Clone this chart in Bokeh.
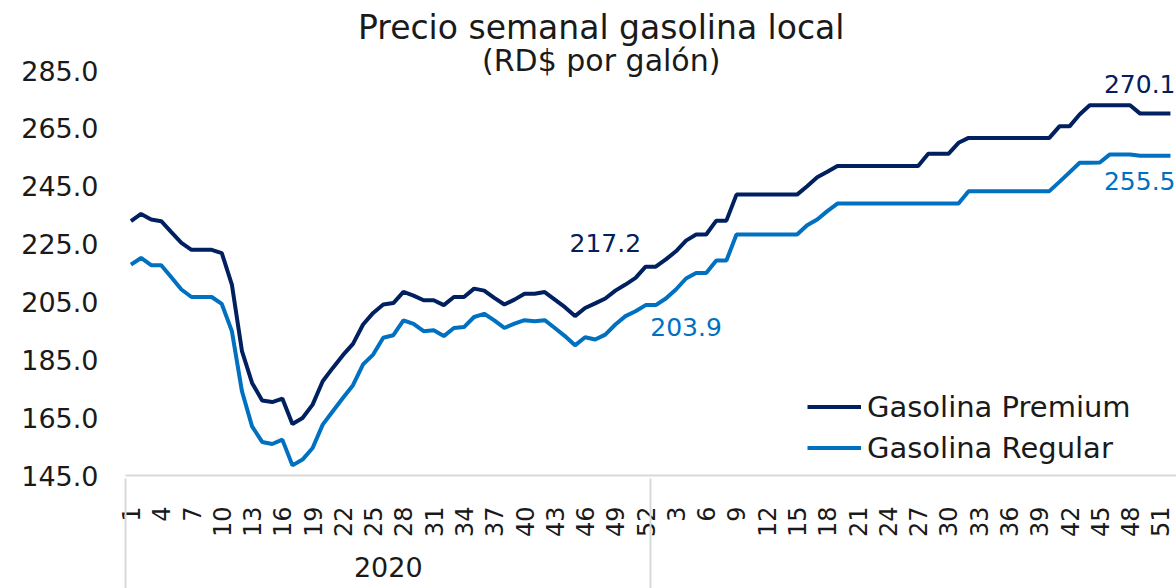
import math
from bokeh.plotting import figure
from bokeh.models import (Range1d, FixedTicker, LinearAxis, Legend, LegendItem,
                          ColumnDataSource)
from bokeh.core.properties import value
from bokeh.embed import file_html
from bokeh.resources import INLINE

# ---------------- data ----------------
years = ["2020", "2021"]
weeks_2020 = list(range(1, 53))
weeks_2021 = list(range(1, 53))

premium_2020 = [232.9, 235.4, 233.5, 232.9, 229.1, 225.4, 223.0, 223.0, 223.0, 221.9,
                211.0, 188.0, 177.0, 170.9, 170.4, 171.6, 162.8, 164.9, 169.5, 177.6,
                182.2, 186.6, 190.5, 197.2, 201.2, 204.1, 204.6, 208.5, 207.2, 205.6,
                205.6, 203.9, 206.7, 206.7, 209.6, 208.9, 206.4, 204.1, 205.8, 207.8,
                207.8, 208.4, 205.8, 203.2, 200.1, 202.9, 204.5, 206.2, 208.9, 211.0,
                213.3, 217.2]
premium_2021 = [217.2, 219.7, 222.5, 226.2, 228.3, 228.3, 233.1, 233.1, 242.1, 242.1,
                242.1, 242.1, 242.1, 242.1, 242.1, 245.0, 248.1, 250.0, 252.0, 252.0,
                252.0, 252.0, 252.0, 252.0, 252.0, 252.0, 252.0, 256.2, 256.2, 256.2,
                260.0, 261.7, 261.7, 261.7, 261.7, 261.7, 261.7, 261.7, 261.7, 261.7,
                265.7, 265.7, 269.8, 273.0, 273.0, 273.0, 273.0, 273.0, 270.1, 270.1,
                270.1, 270.1]
regular_2020 = [217.9, 220.2, 217.7, 217.7, 213.5, 209.3, 206.7, 206.7, 206.7, 204.3,
                194.9, 174.1, 162.0, 156.6, 155.9, 157.4, 148.5, 150.5, 154.5, 162.6,
                167.2, 171.8, 176.2, 183.4, 186.8, 192.6, 193.5, 198.6, 197.4, 194.9,
                195.2, 193.2, 196.0, 196.3, 199.8, 200.9, 198.6, 196.0, 197.5, 198.7,
                198.3, 198.7, 196.0, 193.2, 190.0, 192.8, 192.0, 193.7, 197.2, 200.1,
                201.8, 203.9]
regular_2021 = [203.9, 206.2, 209.3, 213.1, 215.0, 215.0, 219.3, 219.3, 228.3, 228.3,
                228.3, 228.3, 228.3, 228.3, 228.3, 231.5, 233.5, 236.4, 239.0, 239.0,
                239.0, 239.0, 239.0, 239.0, 239.0, 239.0, 239.0, 239.0, 239.0, 239.0,
                239.0, 243.3, 243.3, 243.3, 243.3, 243.3, 243.3, 243.3, 243.3, 243.3,
                246.5, 249.8, 253.1, 253.1, 253.2, 256.0, 256.0, 256.0, 255.5, 255.5,
                255.5, 255.5]

tick_weeks_2020 = [1, 4, 7, 10, 13, 16, 19, 22, 25, 28, 31, 34, 37, 40, 43, 46, 49, 52]
tick_weeks_2021 = [3, 6, 9, 12, 15, 18, 21, 24, 27, 30, 33, 36, 39, 42, 45, 48, 51]
y_ticks = [145, 165, 185, 205, 225, 245, 265, 285]
y_tick_labels = ["145.0", "165.0", "185.0", "205.0", "225.0", "245.0", "265.0", "285.0"]

series_names = ["Gasolina Premium", "Gasolina Regular"]
title_text = "Precio semanal gasolina local"
subtitle_text = "(RD$ por galón)"

# ---------------- build ----------------
FONT = "DejaVu Sans"
DARK = "#002060"
LIGHT = "#0070C0"
TXT = "#1a1a1a"
GRID = "#d9d9d9"

n20 = len(weeks_2020)
n_all = n20 + len(weeks_2021)
xs = list(range(n_all))
premium = premium_2020 + premium_2021
regular = regular_2020 + regular_2021

src = ColumnDataSource(dict(x=xs, premium=premium, regular=regular))

p = figure(width=1176, height=588, output_backend="svg", toolbar_location=None,
           x_range=Range1d(-0.54, 103.6), y_range=Range1d(145, 309.2),
           x_axis_type=None, y_axis_type=None,
           min_border_left=125, min_border_right=0, min_border_top=0,
           min_border_bottom=113)
p.outline_line_color = None
p.background_fill_color = "white"

# y axis
yaxis = LinearAxis(ticker=FixedTicker(ticks=y_ticks),
                   major_label_overrides=dict(zip(y_ticks, y_tick_labels)),
                   axis_line_color=None, major_tick_line_color=None,
                   minor_tick_line_color=None, major_tick_out=0, major_tick_in=0,
                   major_label_standoff=27,
                   major_label_text_font=FONT, major_label_text_font_size="27px",
                   major_label_text_color=TXT)
p.add_layout(yaxis, "left")

# x axis (weeks)
tick_pos = [w - 1 for w in tick_weeks_2020] + [n20 + w - 1 for w in tick_weeks_2021]
tick_lab = [str(w) for w in tick_weeks_2020] + [str(w) for w in tick_weeks_2021]
xaxis = LinearAxis(ticker=FixedTicker(ticks=tick_pos),
                   major_label_overrides=dict(zip(tick_pos, tick_lab)),
                   major_label_orientation=math.pi / 2,
                   axis_line_color=GRID, axis_line_width=2,
                   major_tick_line_color=None, major_tick_out=0, major_tick_in=0,
                   minor_tick_line_color=None,
                   major_label_standoff=31,
                   major_label_text_font=FONT, major_label_text_font_size="24px",
                   major_label_text_color=TXT)
p.add_layout(xaxis, "below")

# group axis: year label + separator lines (minor ticks)
mid20 = (n20 - 1) / 2
grpaxis = LinearAxis(ticker=FixedTicker(ticks=[mid20], minor_ticks=[-0.5, n20 - 0.5]),
                     major_label_overrides={mid20: years[0]},
                     axis_line_color=None, major_tick_line_color=None,
                     major_tick_out=0, major_tick_in=0,
                     minor_tick_line_color=GRID, minor_tick_line_width=2,
                     minor_tick_in=62, minor_tick_out=51,
                     major_label_standoff=-35,
                     major_label_text_font=FONT, major_label_text_font_size="27px",
                     major_label_text_color=TXT)
p.add_layout(grpaxis, "below")

# lines
r1 = p.line("x", "premium", source=src, line_color=DARK, line_width=4)
r2 = p.line("x", "regular", source=src, line_color=LIGHT, line_width=4)

legend = Legend(items=[LegendItem(label=series_names[0], renderers=[r1]),
                       LegendItem(label=series_names[1], renderers=[r2])],
                location=(682, 7), label_text_font=FONT, label_text_font_size="29px",
                label_text_color=TXT, glyph_width=54, glyph_height=41,
                label_height=41, spacing=0, padding=0, margin=0, label_standoff=6,
                border_line_color=None, background_fill_alpha=0)
p.add_layout(legend)

# data labels
lab_src = ColumnDataSource(dict(
    x=[47.0, 55.0], y=[225.2, 196.5],
    t=["%.1f" % premium_2020[-1], "%.1f" % regular_2020[-1]],
    c=[DARK, LIGHT]))
p.text("x", "y", text="t", text_color="c", source=lab_src, text_align="center",
       text_baseline="middle", text_font=value(FONT), text_font_size="25px")
lab_src2 = ColumnDataSource(dict(
    x=[103.5, 103.5], y=[280.2, 246.9],
    t=["%.1f" % premium_2021[-1], "%.1f" % regular_2021[-1]],
    c=[DARK, LIGHT]))
p.text("x", "y", text="t", text_color="c", source=lab_src2, text_align="right",
       text_baseline="middle", text_font=value(FONT), text_font_size="25px")

# titles
p.text(x=[46.6], y=[299.9], text=[title_text], text_align="center",
       text_baseline="middle", text_font=value(FONT), text_font_size="33px",
       text_color=TXT)
p.text(x=[46.6], y=[288.5], text=[subtitle_text], text_align="center",
       text_baseline="middle", text_font=value(FONT), text_font_size="30px",
       text_color=TXT)

open("out.html", "w").write(file_html(p, INLINE))
